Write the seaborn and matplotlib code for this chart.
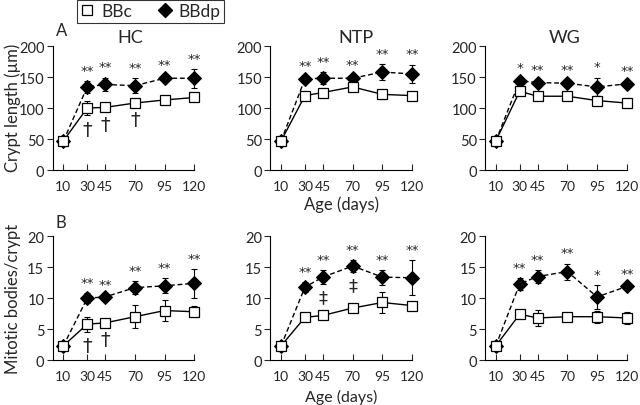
"""
Crypt length and mitotic bodies in BBc vs BBdp rats over age.
"""

import numpy as np
import pandas as pd
import seaborn as sns
import matplotlib.pyplot as plt
from matplotlib.lines import Line2D

sns.set_style("ticks")
plt.rcParams["font.family"] = ["Lato", "DejaVu Sans"]

ages = [10, 30, 45, 70, 95, 120]
regions = ["HC", "NTP", "WG"]

# crypt length (um), mean and error per region
crypt_bbc = {
    "HC": [47, 100, 101, 108, 113, 117],
    "NTP": [47, 120, 125, 134, 122, 120],
    "WG": [47, 127, 119, 119, 112, 108],
}
crypt_bbc_err = {
    "HC": [0, 12, 5, 5, 7, 5],
    "NTP": [0, 5, 6, 5, 7, 4],
    "WG": [0, 5, 4, 4, 7, 8],
}
crypt_bbdp = {
    "HC": [47, 134, 138, 136, 148, 148],
    "NTP": [47, 147, 148, 148, 158, 155],
    "WG": [47, 144, 141, 140, 134, 139],
}
crypt_bbdp_err = {
    "HC": [0, 9, 11, 12, 5, 15],
    "NTP": [0, 5, 10, 5, 13, 15],
    "WG": [0, 4, 4, 5, 15, 5],
}

# mitotic bodies per crypt
mito_bbc = {
    "HC": [2.3, 5.8, 6.0, 7.0, 8.0, 7.8],
    "NTP": [2.3, 6.9, 7.2, 8.4, 9.3, 8.8],
    "WG": [2.3, 7.4, 6.8, 7.0, 7.0, 6.8],
}
mito_bbc_err = {
    "HC": [0, 1.2, 0.4, 1.9, 1.7, 0.9],
    "NTP": [0, 0.3, 0.3, 0.3, 1.7, 0.4],
    "WG": [0, 0.3, 1.3, 0.6, 1.0, 1.0],
}
mito_bbdp = {
    "HC": [2.3, 10.0, 10.2, 11.7, 12.0, 12.4],
    "NTP": [2.3, 11.8, 13.4, 15.2, 13.4, 13.3],
    "WG": [2.3, 12.3, 13.5, 14.3, 10.2, 11.9],
}
mito_bbdp_err = {
    "HC": [0, 0.8, 0.3, 1.0, 1.2, 2.3],
    "NTP": [0, 0.8, 1.1, 1.0, 1.2, 2.8],
    "WG": [0, 1.0, 1.1, 1.3, 1.9, 0.3],
}

# significance marks (BBdp vs BBc above, other marks below)
crypt_stars = {
    "HC": ["", "**", "**", "**", "**", "**"],
    "NTP": ["", "**", "**", "**", "**", "**"],
    "WG": ["", "*", "**", "**", "*", "**"],
}
mito_stars = {
    "HC": ["", "**", "**", "**", "**", "**"],
    "NTP": ["", "**", "**", "**", "**", "**"],
    "WG": ["", "**", "**", "**", "*", "**"],
}
crypt_dagger = {"HC": ["", "†", "†", "†", "", ""]}
mito_dagger = {"HC": ["", "†", "†", "", "", ""]}
mito_ddagger = {"NTP": ["", "", "‡", "‡", "", ""]}

fig = plt.figure(figsize=(6.4, 4.06), dpi=100)

lefts = [0.0823, 0.4225, 0.758]
w = 0.2215
rows = [(0.5788, 0.3054), (0.1108, 0.3047)]
title_x = [0.55, 0.6, 0.56]


def draw_panel(ax, bbc, bbc_err, bbdp, bbdp_err, stars, below_bbc, below_bbdp, ymax, unit):
    df_dp = pd.DataFrame({"age": ages, "val": bbdp})
    df_c = pd.DataFrame({"age": ages, "val": bbc})
    ax.errorbar(ages, bbdp, yerr=bbdp_err, fmt="none", ecolor="black",
                elinewidth=0.8, capsize=2, capthick=0.8, zorder=2, clip_on=False)
    ax.errorbar(ages, bbc, yerr=bbc_err, fmt="none", ecolor="black",
                elinewidth=0.8, capsize=2, capthick=0.8, zorder=2, clip_on=False)
    sns.lineplot(data=df_dp, x="age", y="val", ax=ax, color="black", lw=1.0,
                 linestyle=(0, (3.5, 2)), marker="D", markersize=7.5,
                 markerfacecolor="black", markeredgecolor="black",
                 zorder=3, clip_on=False)
    sns.lineplot(data=df_c, x="age", y="val", ax=ax, color="black", lw=1.0,
                 marker="s", markersize=6.8, markerfacecolor="white",
                 markeredgecolor="black", markeredgewidth=0.9,
                 zorder=4, clip_on=False)
    for i, a in enumerate(ages):
        if stars[i]:
            ax.annotate(stars[i], (a, bbdp[i] + bbdp_err[i]), xytext=(0, 3),
                        textcoords="offset points", ha="center", va="bottom",
                        fontsize=9.5, family="DejaVu Sans")
        if below_bbc and below_bbc[i]:
            ax.annotate(below_bbc[i], (a, bbc[i] - bbc_err[i]), xytext=(0, -3),
                        textcoords="offset points", ha="center", va="top",
                        fontsize=14, family="DejaVu Sans")
        if below_bbdp and below_bbdp[i]:
            ax.annotate(below_bbdp[i], (a, bbdp[i] - bbdp_err[i]), xytext=(0, -3),
                        textcoords="offset points", ha="center", va="top",
                        fontsize=13, family="DejaVu Sans")
    ax.set_xlim(1, 120)
    ax.set_ylim(0, ymax)
    ax.set_xticks(ages)
    ax.set_yticks(np.arange(0, ymax + 1, unit))
    ax.tick_params(axis="x", direction="in", length=4, width=0.8, labelsize=10, pad=7)
    ax.tick_params(axis="y", direction="out", length=4, width=0.8, labelsize=10.5, pad=2)
    for s in ["top", "right"]:
        ax.spines[s].set_visible(False)
    for s in ["left", "bottom"]:
        ax.spines[s].set_linewidth(0.8)
        ax.spines[s].set_color("black")
    ax.set_xlabel("")
    ax.set_ylabel("")


for j, reg in enumerate(regions):
    ax = fig.add_axes([lefts[j], rows[0][0], w, rows[0][1]])
    draw_panel(ax, crypt_bbc[reg], crypt_bbc_err[reg], crypt_bbdp[reg], crypt_bbdp_err[reg],
               crypt_stars[reg], crypt_dagger.get(reg), None, 200, 50)
    ax.text(title_x[j], 1.075, reg, transform=ax.transAxes, ha="center", va="center",
            fontsize=13)
    if j == 0:
        ax.text(0.06, 1.13, "A", transform=ax.transAxes, ha="center", va="center",
                fontsize=12)
    if j == 1:
        ax.set_xlabel("Age (days)", fontsize=12, labelpad=3)

    ax = fig.add_axes([lefts[j], rows[1][0], w, rows[1][1]])
    draw_panel(ax, mito_bbc[reg], mito_bbc_err[reg], mito_bbdp[reg], mito_bbdp_err[reg],
               mito_stars[reg], mito_dagger.get(reg), mito_ddagger.get(reg), 20, 5)
    if j == 0:
        ax.text(0.06, 1.115, "B", transform=ax.transAxes, ha="center", va="center",
                fontsize=12)
    if j == 1:
        ax.set_xlabel("Age (days)", fontsize=11.5, labelpad=5)

fig.text(0.02, 1 - 108 / 406, "Crypt length (\u00b5m)", rotation=90,
         ha="center", va="center", fontsize=12)
fig.text(0.02, 1 - 299 / 406, "Mitotic bodies/crypt", rotation=90,
         ha="center", va="center", fontsize=12)

handles = [
    Line2D([], [], ls="none", marker="s", markersize=7, markerfacecolor="white",
           markeredgecolor="black", markeredgewidth=0.9, label="BBc"),
    Line2D([], [], ls="none", marker="D", markersize=7, markerfacecolor="black",
           markeredgecolor="black", label="BBdp"),
]
leg = fig.legend(handles=handles, loc="upper left", bbox_to_anchor=(0.12, 0.998),
                 ncol=2, frameon=True, fancybox=False, fontsize=12.5, handlelength=0.8,
                 handletextpad=0.4, columnspacing=1.5, borderpad=0.2,
                 borderaxespad=0)
leg.get_frame().set_edgecolor("black")
leg.get_frame().set_linewidth(0.8)

plt.savefig("out.png", dpi=100)
